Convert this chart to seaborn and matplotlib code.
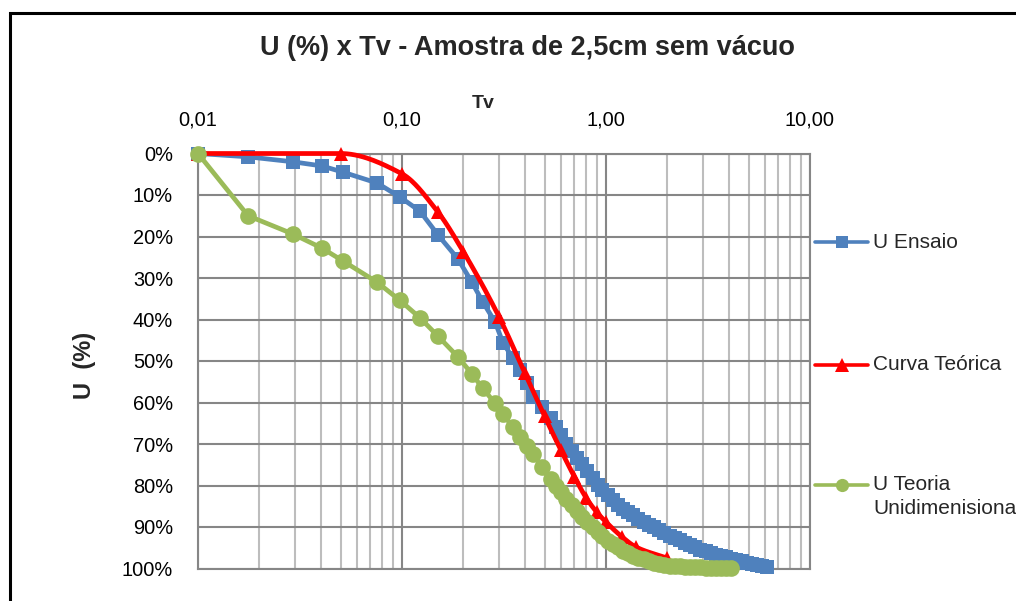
import numpy as np
import matplotlib
matplotlib.use("Agg")
import matplotlib.pyplot as plt
from matplotlib.lines import Line2D
from matplotlib.patches import Rectangle
from matplotlib.ticker import FixedLocator, LogLocator, NullFormatter
import seaborn as sns

# Time factor Tv of each reading (shared by the test series and the 1-D theory series)
tv_ensaio = [0.01, 0.0176, 0.0292, 0.0405, 0.0514, 0.0754, 0.0978, 0.1225, 0.150, 0.188,
             0.220, 0.249, 0.286, 0.313, 0.350, 0.378, 0.411, 0.439, 0.486, 0.54,
             0.57, 0.60, 0.64, 0.68, 0.72, 0.76, 0.81, 0.86, 0.91, 0.96,
             1.02, 1.08, 1.14, 1.21, 1.28, 1.36, 1.44, 1.53, 1.62, 1.72,
             1.82, 1.93, 2.05, 2.17, 2.30, 2.44, 2.58, 2.74, 2.90, 3.08,
             3.26, 3.46, 3.66, 3.88, 4.12, 4.36, 4.62, 4.90, 5.20, 5.50,
             5.85, 6.15]

# Measured degree of consolidation (%)
u_ensaio = [0.0, 0.8, 2.0, 3.0, 4.5, 7.1, 10.5, 13.9, 19.6, 25.4,
            31.0, 35.8, 40.6, 45.7, 49.3, 52.2, 55.3, 58.7, 61.1, 63.8,
            65.9, 67.9, 70.1, 71.8, 73.4, 74.9, 76.6, 78.2, 79.8, 81.0,
            82.4, 83.5, 84.7, 85.6, 86.4, 87.2, 88.1, 88.8, 89.4, 90.1,
            90.8, 91.5, 92.1, 92.7, 93.2, 93.8, 94.3, 94.8, 95.6, 95.9,
            96.3, 96.7, 97.0, 97.3, 97.7, 98.0, 98.3, 98.6, 98.9, 99.2,
            99.5, 99.7]

# One-dimensional theory (%), available up to Tv = 4.12
u_teoria = [0.0, 15.0, 19.4, 22.8, 25.9, 31.0, 35.4, 39.6, 44.0, 49.0,
            53.1, 56.6, 60.2, 62.8, 66.0, 68.2, 70.6, 72.5, 75.5, 78.5,
            80.0, 81.5, 83.2, 84.8, 86.2, 87.5, 88.9, 90.1, 91.2, 92.2,
            93.3, 94.2, 94.9, 95.7, 96.3, 96.9, 97.4, 97.8, 98.2, 98.6,
            98.9, 99.1, 99.3, 99.4, 99.5, 99.6, 99.6, 99.7, 99.7, 99.8,
            99.8, 99.8, 99.9, 99.9, 99.9]

# Theoretical curve
tv_curva = [0.01, 0.05, 0.1, 0.15, 0.2, 0.3, 0.4, 0.5, 0.6, 0.7, 0.8, 0.9, 1.0, 1.2, 1.4, 2.0]
u_curva = [0.0, 0.0, 4.9, 14.1, 23.7, 39.5, 52.9, 63.3, 71.4, 77.9, 83.0, 86.4, 88.8, 92.4,
           94.8, 97.5]

x_ticks = [0.01, 0.1, 1.0, 10.0]
x_tick_labels = ["0,01", "0,10", "1,00", "10,00"]
y_ticks = list(range(0, 101, 10))
y_tick_labels = [f"{v}%" for v in y_ticks]

BLUE = "#4F81BD"
RED = "#FF0000"
GREEN = "#9BBB59"
GRID_MAJOR = "#868686"
GRID_MINOR = "#BDBDBD"

W, H = 1016, 601


def smooth_curve(x, y, n=30):
    """Monotone (Fritsch-Carlson) cubic through the points, x on log scale."""
    lx = np.log10(np.asarray(x, float))
    y = np.asarray(y, float)
    h = np.diff(lx)
    delta = np.diff(y) / h
    d = np.zeros_like(y)
    for k in range(1, len(y) - 1):
        if delta[k - 1] * delta[k] > 0:
            w1 = 2 * h[k] + h[k - 1]
            w2 = h[k] + 2 * h[k - 1]
            d[k] = (w1 + w2) / (w1 / delta[k - 1] + w2 / delta[k])
    d[0] = delta[0]
    d[-1] = delta[-1]
    xs, ys = [], []
    t = np.linspace(0, 1, n, endpoint=False)
    for k in range(len(y) - 1):
        h00 = 2 * t ** 3 - 3 * t ** 2 + 1
        h10 = t ** 3 - 2 * t ** 2 + t
        h01 = -2 * t ** 3 + 3 * t ** 2
        h11 = t ** 3 - t ** 2
        xs.append(lx[k] + t * h[k])
        ys.append(h00 * y[k] + h10 * h[k] * d[k] + h01 * y[k + 1] + h11 * h[k] * d[k + 1])
    xs.append([lx[-1]])
    ys.append([y[-1]])
    return 10 ** np.concatenate(xs), np.concatenate(ys)


sns.set_style("white")
plt.rcParams["font.family"] = ["Liberation Sans", "DejaVu Sans"]

fig = plt.figure(figsize=(W / 100, H / 100), dpi=100)
ax = fig.add_axes([198 / W, 1 - 568.5 / H, (810 - 198) / W, (568.5 - 153.5) / H])

ax.set_xscale("log")
ax.set_xlim(0.01, 10)
ax.set_ylim(100, 0)

# Grid
ax.xaxis.set_major_locator(FixedLocator(x_ticks))
ax.xaxis.set_minor_locator(LogLocator(base=10, subs=np.arange(2, 10)))
ax.xaxis.set_minor_formatter(NullFormatter())
ax.set_yticks(y_ticks)
ax.grid(which="major", axis="both", color=GRID_MAJOR, lw=1.5, zorder=0)
ax.grid(which="minor", axis="x", color=GRID_MINOR, lw=1.5, zorder=0)
ax.set_axisbelow(True)
for side, sp in ax.spines.items():
    sp.set_color(GRID_MAJOR)
    sp.set_linewidth(1.5)

LW = 3.4

# Series
sns.lineplot(x=tv_ensaio, y=u_ensaio, ax=ax, color=BLUE, lw=LW, marker="s",
             markersize=10.0, markeredgewidth=0, sort=False, estimator=None,
             clip_on=False, zorder=3)

xs, ys = smooth_curve(tv_curva, u_curva)
sns.lineplot(x=xs, y=ys, ax=ax, color=RED, lw=LW, sort=False, estimator=None,
             clip_on=False, zorder=4)
sns.lineplot(x=tv_curva, y=u_curva, ax=ax, color=RED, linestyle="none", marker="^",
             markersize=10.5, markeredgewidth=0, sort=False, estimator=None,
             clip_on=False, zorder=4)

sns.lineplot(x=tv_ensaio[:len(u_teoria)], y=u_teoria, ax=ax, color=GREEN, lw=LW,
             marker="o", markersize=12.0, markeredgewidth=0, sort=False,
             estimator=None, clip_on=False, zorder=5)

if ax.get_legend() is not None:
    ax.get_legend().remove()

# Axes labels / ticks
ax.xaxis.tick_top()
ax.set_xticklabels(x_tick_labels)
ax.set_yticklabels(y_tick_labels)
ax.tick_params(axis="x", which="both", length=0, pad=17, labelsize=14.4, colors="black")
ax.tick_params(axis="y", which="both", length=0, pad=18, labelsize=14.4, colors="black")
ax.set_xlabel("")
ax.set_ylabel("")

fig.text(527 / W, 1 - 48 / H, "U (%) x Tv - Amostra de 2,5cm sem vácuo",
         ha="center", va="center", fontsize=19.5, fontweight="bold")
fig.text(483 / W, 1 - 103 / H, "Tv", ha="center", va="center",
         fontsize=14, fontweight="bold")
fig.text(85 / W, 1 - 365 / H, "U  (%)", ha="center", va="center", rotation=90,
         fontsize=17, fontweight="bold")

# Legend on the right
legend_items = [("U Ensaio", BLUE, "s", 8.5, 242),
                ("Curva Teórica", RED, "^", 9.5, 365),
                ("U Teoria", GREEN, "o", 9.5, 485)]
for label, col, mk, ms, yc in legend_items:
    yf = 1 - yc / H
    fig.add_artist(Line2D([815 / W, 868 / W], [yf, yf], transform=fig.transFigure,
                          color=col, lw=2.6))
    fig.add_artist(Line2D([841.5 / W], [yf], transform=fig.transFigure, color=col,
                          marker=mk, markersize=ms, markeredgewidth=0, linestyle="none"))
    fig.text(873 / W, yf, label, ha="left", va="center", fontsize=15)
fig.text(873 / W, 1 - 508 / H, "Unidimenisional", ha="left", va="center", fontsize=15)

# Chart frame
fig.add_artist(Rectangle((9.5 / W, -0.5), 2.0, 1.5 - 12.5 / H, transform=fig.transFigure,
                         fill=False, edgecolor="black", lw=2.2, clip_on=False))

fig.savefig("out.png", dpi=100)
